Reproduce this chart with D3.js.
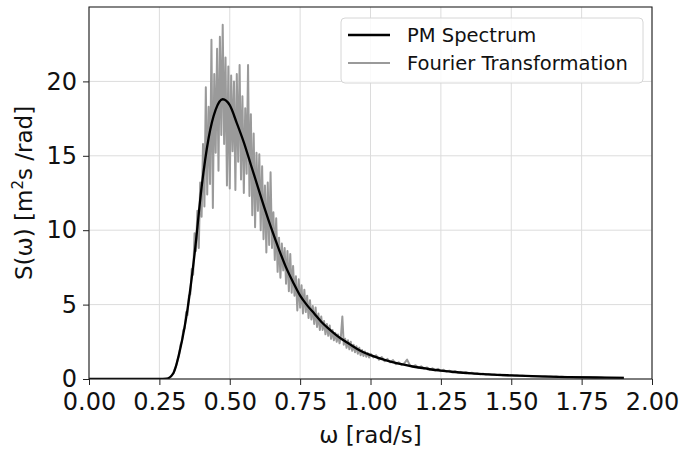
<!DOCTYPE html>
<html><head><meta charset="utf-8">
<script src="https://cdn.jsdelivr.net/npm/d3@7"></script>
<style>body{margin:0;background:#fff}svg{display:block}text{font-family:"DejaVu Sans",sans-serif;fill:#111}</style>
</head><body><svg id="c" width="682" height="452"></svg>
<script>
// PM spectrum
const pmOmega = [0, 0.25, 0.275, 0.30, 0.325, 0.35, 0.375, 0.40, 0.425, 0.45, 0.475, 0.50, 0.525, 0.55, 0.575, 0.60, 0.625, 0.65, 0.675, 0.70, 0.725, 0.75, 0.775, 0.80, 0.825, 0.85, 0.875, 0.90, 0.925, 0.95, 0.975, 1.00, 1.05, 1.10, 1.15, 1.20, 1.25, 1.30, 1.35, 1.40, 1.45, 1.50, 1.60, 1.70, 1.80, 1.90];
const pmValues = [0, 0, 0.02, 0.4, 2.1, 4.7, 8.4, 12.9, 16.2, 18.1, 18.8, 18.4, 17.2, 15.9, 14.4, 12.9, 11.4, 10.0, 8.7, 7.5, 6.5, 5.6, 4.95, 4.4, 3.85, 3.4, 3.0, 2.65, 2.35, 2.05, 1.8, 1.6, 1.28, 1.03, 0.84, 0.69, 0.56, 0.47, 0.39, 0.33, 0.28, 0.24, 0.175, 0.13, 0.10, 0.08];

// Fourier transformation, fine part: omega 0.300 .. 1.000 step 0.005
const ftFineStart = 0.30, ftFineStep = 0.005;
const ftFineValues = [
 0.4, 0.7, 0.9, 1.3, 1.6, 2.3, 2.5, 3.3, 3.4, 4.5,
 4.3, 5.6, 5.7, 7.4, 7.0, 9.8, 8.6, 11.3, 8.8, 13.2,
 10.9, 15.8, 11.6, 19.6, 12.4, 18.3, 13.1, 22.8, 11.5, 20.5,
 15.2, 22.2, 14.0, 23.0, 16.4, 23.8, 15.8, 21.6, 13.0, 21.0,
 12.8, 20.4, 15.3, 20.0, 12.7, 20.5, 14.6, 21.1, 13.4, 19.0,
 12.5, 18.2, 13.8, 21.1, 12.3, 17.8, 11.0, 16.5, 10.2, 15.2,
 11.3, 15.1, 10.0, 14.3, 9.4, 13.0, 8.5, 13.2, 9.0, 13.9,
 8.8, 11.2, 8.0, 10.8, 7.2, 9.5, 6.8, 9.1, 7.3, 8.8,
 6.4, 8.6, 5.9, 8.4, 5.8, 7.6, 5.6, 6.9, 4.6, 6.7,
 4.8, 6.3, 4.4, 6.0, 4.5, 5.6, 4.1, 5.3, 4.0, 4.9,
 3.7, 4.8, 3.5, 4.4, 3.3, 4.2, 3.3, 3.9, 3.0, 3.7,
 2.9, 3.6, 2.7, 3.3, 2.6, 3.1, 2.5, 3.0, 2.4, 2.9,
 4.2, 2.3, 2.7, 2.1, 2.6, 2.0, 2.5, 1.9, 2.3, 1.8,
 2.2, 1.7, 2.1, 1.6, 1.95, 1.55, 1.85, 1.5, 1.75, 1.45,
 1.7];
// Fourier transformation, tail part: omega 1.01 .. 1.90 step 0.01
const ftTailStart = 1.01, ftTailStep = 0.01;
const ftTailValues = [
 1.45, 1.6, 1.3, 1.48, 1.2, 1.35, 1.12, 1.27, 1.0, 1.12,
 0.95, 1.05, 1.3, 0.92, 0.82, 0.93, 0.76, 0.85, 0.7, 0.78,
 0.63, 0.72, 0.58, 0.68, 0.53, 0.62, 0.5, 0.56, 0.45, 0.52,
 0.44, 0.48, 0.4, 0.45, 0.37, 0.42, 0.35, 0.38, 0.32, 0.36,
 0.3, 0.33, 0.29, 0.31, 0.27, 0.29, 0.25, 0.27, 0.24, 0.25,
 0.22, 0.24, 0.21, 0.22, 0.2, 0.21, 0.19, 0.2, 0.18, 0.18,
 0.17, 0.18, 0.16, 0.17, 0.15, 0.16, 0.14, 0.15, 0.14, 0.13,
 0.13, 0.13, 0.12, 0.12, 0.12, 0.11, 0.11, 0.11, 0.10, 0.10,
 0.10, 0.1, 0.09, 0.09, 0.09, 0.09, 0.08, 0.08, 0.08, 0.08];

const xTicks = [0, 0.25, 0.5, 0.75, 1.0, 1.25, 1.5, 1.75, 2.0];
const yTicks = [0, 5, 10, 15, 20];
const seriesNames = ["PM Spectrum", "Fourier Transformation"];

const svg = d3.select("#c");
const L = 89, R = 652, T = 7, B = 379;
const x = d3.scaleLinear().domain([0, 2]).range([L, R]);
const y = d3.scaleLinear().domain([0, 25]).range([B, T]);

// grid
svg.append("g").selectAll("line").data(xTicks).join("line")
  .attr("x1", d => x(d)).attr("x2", d => x(d)).attr("y1", T).attr("y2", B)
  .attr("stroke", "#dcdcdc").attr("stroke-width", 1);
svg.append("g").selectAll("line").data(yTicks).join("line")
  .attr("x1", L).attr("x2", R).attr("y1", d => y(d)).attr("y2", d => y(d))
  .attr("stroke", "#dcdcdc").attr("stroke-width", 1);

svg.append("clipPath").attr("id", "cp").append("rect")
  .attr("x", L).attr("y", T).attr("width", R - L).attr("height", B - T);

const ftData = ftFineValues.map((v, i) => [ftFineStart + i * ftFineStep, v])
  .concat(ftTailValues.map((v, i) => [ftTailStart + i * ftTailStep, v]));
const pmData = pmOmega.map((w, i) => [w, pmValues[i]]);

const g = svg.append("g").attr("clip-path", "url(#cp)");
g.append("path").datum(ftData)
  .attr("d", d3.line().x(d => x(d[0])).y(d => y(d[1])))
  .attr("fill", "none").attr("stroke", "#9a9a9a").attr("stroke-width", 2).attr("stroke-linejoin", "round");
g.append("path").datum(pmData)
  .attr("d", d3.line().x(d => x(d[0])).y(d => y(d[1])).curve(d3.curveMonotoneX))
  .attr("fill", "none").attr("stroke", "#000").attr("stroke-width", 2.3);

// axes
const xAxis = svg.append("g").attr("transform", `translate(0,${B})`)
  .call(d3.axisBottom(x).tickValues(xTicks).tickFormat(d3.format(".2f")).tickSizeOuter(0).tickSize(6).tickPadding(8));
const yAxis = svg.append("g").attr("transform", `translate(${L},0)`)
  .call(d3.axisLeft(y).tickValues(yTicks).tickSizeOuter(0).tickSize(6).tickPadding(6));
[xAxis, yAxis].forEach(a => {
  a.selectAll("text").attr("font-size", 24).attr("font-family", "DejaVu Sans").attr("fill", "#111");
  a.selectAll("line").attr("stroke", "#222");
  a.select(".domain").remove();
});
// spines
svg.append("rect").attr("x", L).attr("y", T).attr("width", R - L).attr("height", B - T)
  .attr("fill", "none").attr("stroke", "#222").attr("stroke-width", 1.1);

// axis labels
svg.append("text").attr("x", (L + R) / 2).attr("y", 443).attr("text-anchor", "middle")
  .attr("font-size", 23).text("ω [rad/s]");
const yl = svg.append("text").attr("transform", `translate(32,${(T + B) / 2}) rotate(-90)`)
  .attr("text-anchor", "middle").attr("font-size", 23);
yl.append("tspan").text("S(ω) [m");
yl.append("tspan").attr("baseline-shift", "super").attr("font-size", 15).text("2");
yl.append("tspan").text("s /rad]");

// legend
const lg = svg.append("g");
lg.append("rect").attr("x", 341).attr("y", 18).attr("width", 302).attr("height", 65).attr("rx", 4)
  .attr("fill", "#fff").attr("fill-opacity", 0.85).attr("stroke", "#d6d6d6");
const legColors = ["#000", "#9a9a9a"];
const legY = [35, 63];
seriesNames.forEach((n, i) => {
  lg.append("line").attr("x1", 348).attr("x2", 390).attr("y1", legY[i]).attr("y2", legY[i])
    .attr("stroke", legColors[i]).attr("stroke-width", i ? 2 : 2.3);
  lg.append("text").attr("x", 407).attr("y", legY[i] + 7).attr("font-size", 19.5).text(n);
});
</script></body></html>
